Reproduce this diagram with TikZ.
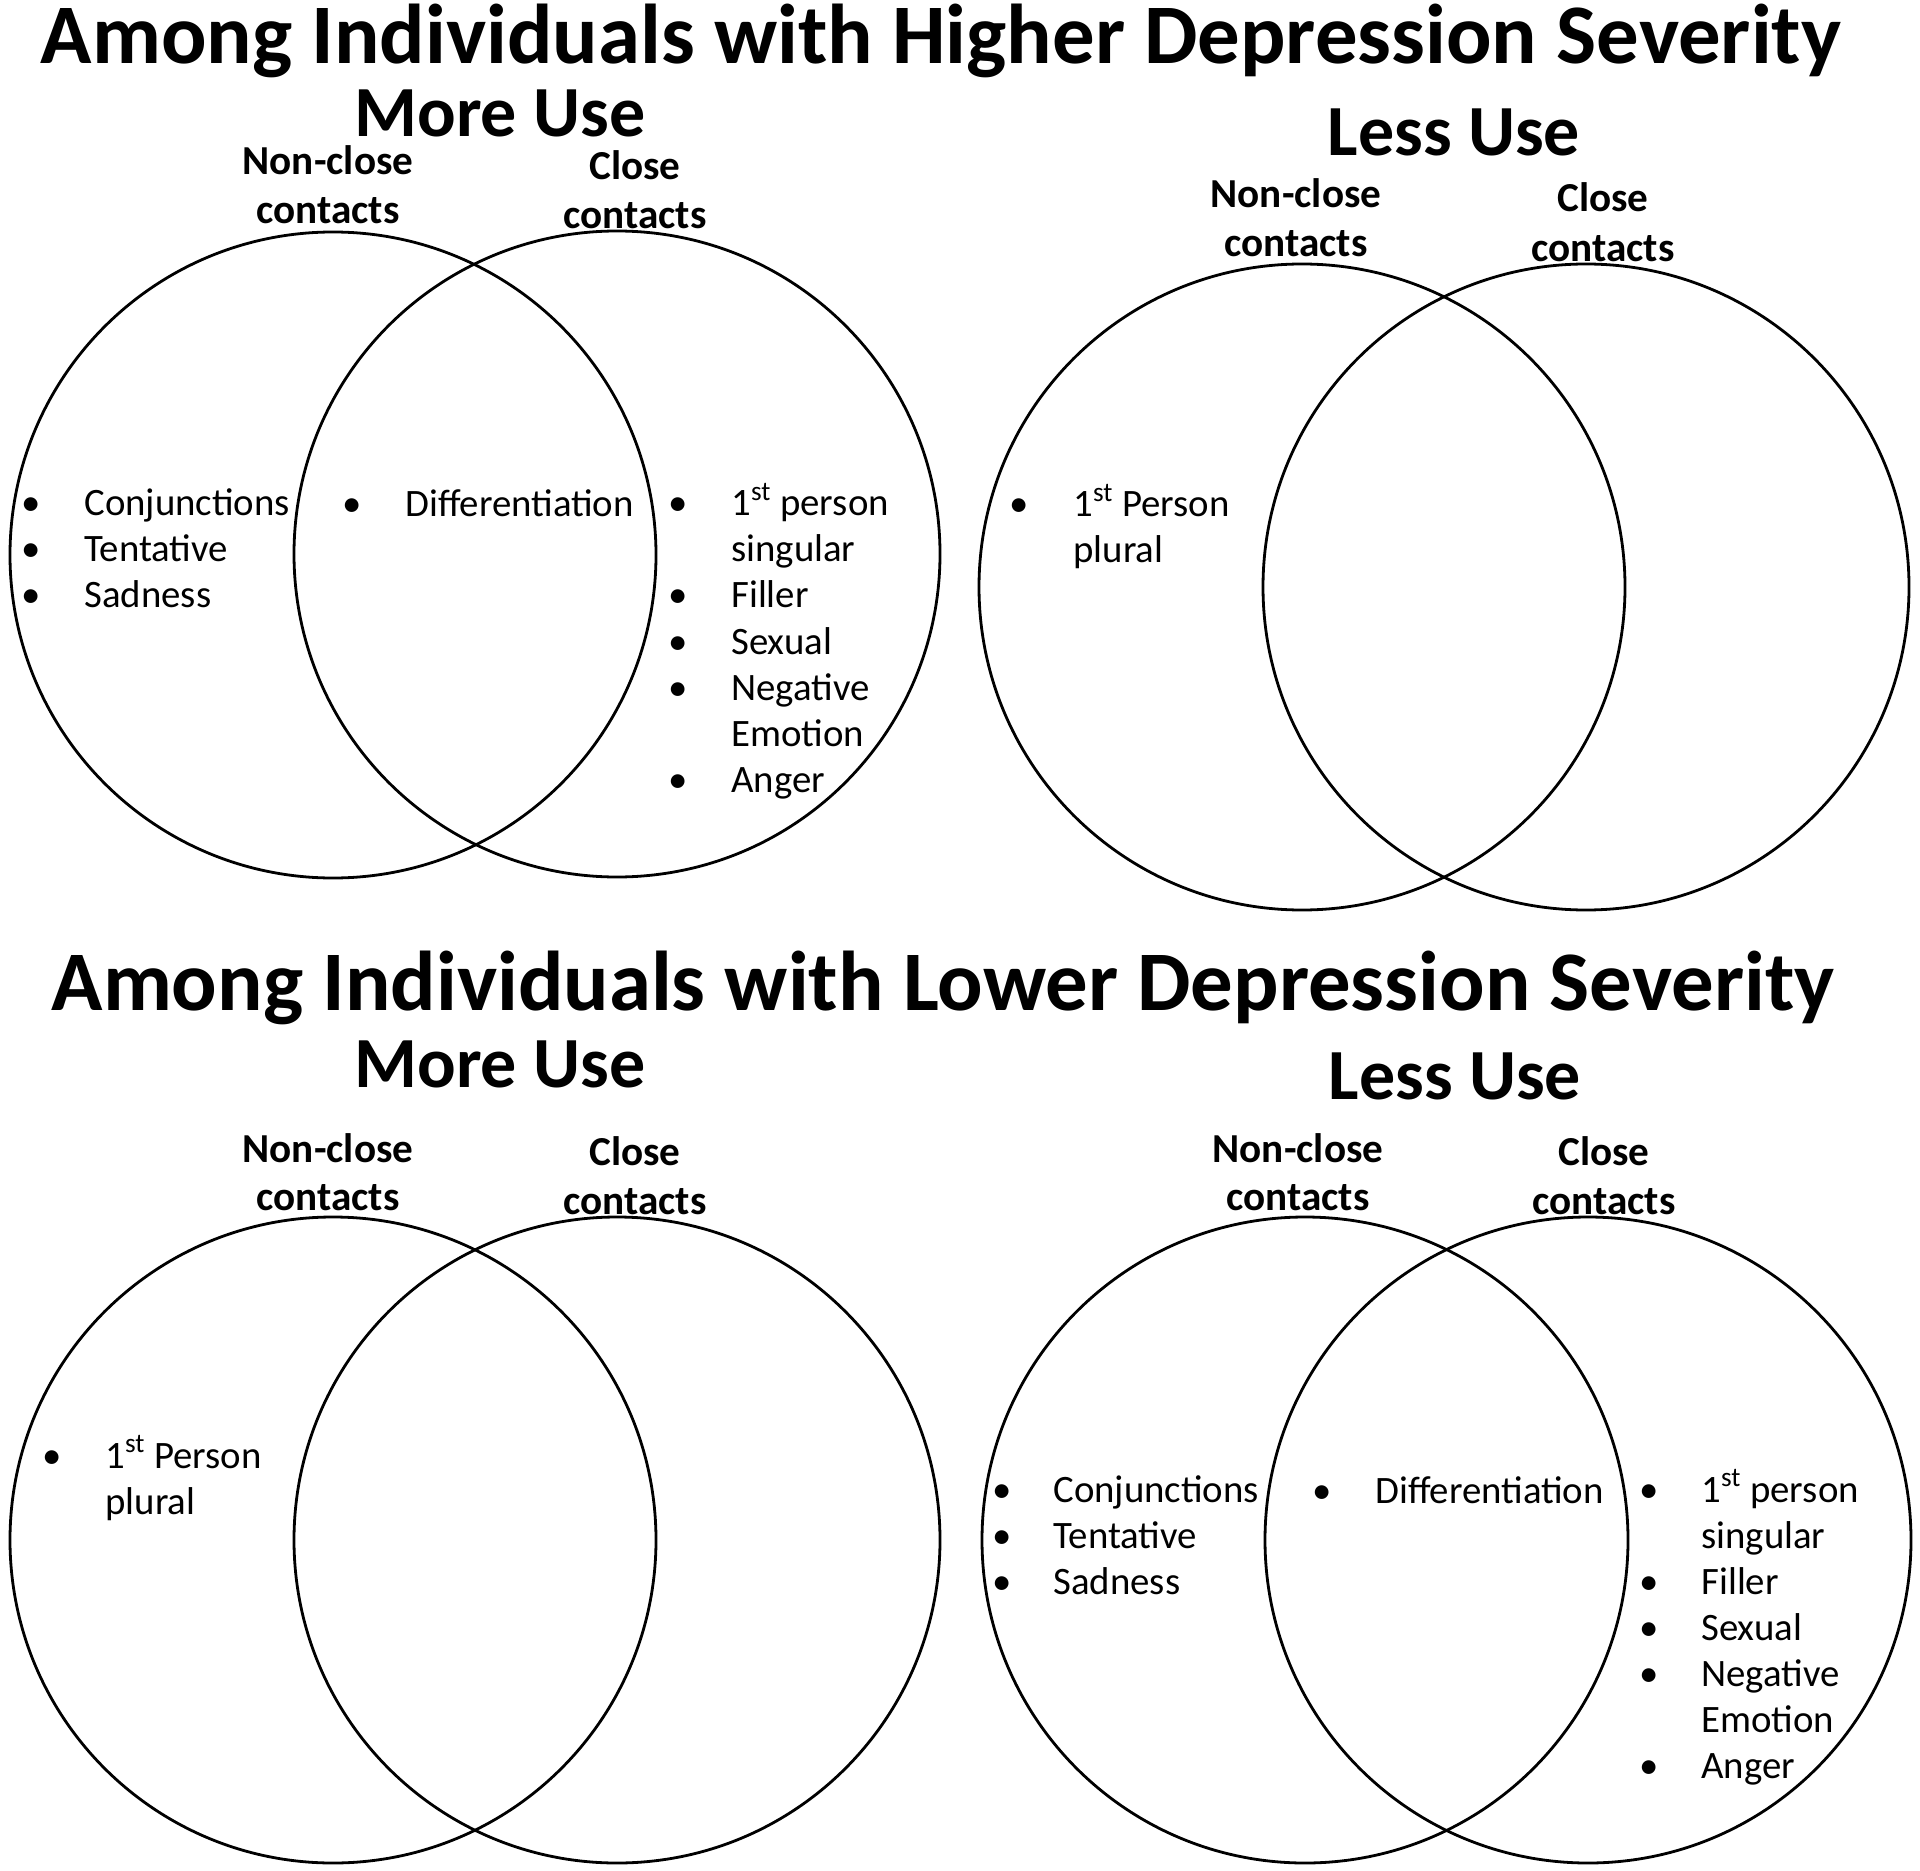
\documentclass[tikz,border=0pt]{standalone}
\usepackage{fontspec}
\setmainfont{Carlito}
\newcommand\bdot[3]{\node[dot] (#1) at (#2,#3) {•};}
\begin{document}
\begin{tikzpicture}[x=0.5pt,y=-0.5pt,
 venn/.style={draw, circle, line width=1.4pt, minimum size=323pt, inner sep=0pt},
 title/.style={font=\fontsize{42.4}{50}\selectfont\bfseries, inner sep=0pt, anchor=base},
 sub/.style={font=\fontsize{36}{43}\selectfont\bfseries, inner sep=0pt, anchor=base},
 lab/.style={font=\fontsize{20.6}{24.5}\selectfont\bfseries, inner sep=0pt, anchor=base},
 item/.style={font=\fontsize{19.4}{23}\selectfont, inner sep=0pt, anchor=base west},
 dot/.style={font=\fontsize{19.4}{23}\selectfont, inner sep=0pt, anchor=base},
]
\useasboundingbox (0,0) rectangle (1920,1871);
% ---------- top half ----------
\node[title] (t1) at (941,64) {Among Individuals with Higher Depression Severity};
\node[sub] (mu1) at (500,137) {More Use};
\node[sub] (lu1) at (1454,156) {Less Use};
\node[lab] (nc1a) at (328,175) {Non-close};
\node[lab] (nc1b) at (328,224) {contacts};
\node[lab] (c1a) at (635,180) {Close};
\node[lab] (c1b) at (635,229) {contacts};
\node[lab] (nc2a) at (1296,208) {Non-close};
\node[lab] (nc2b) at (1296,257) {contacts};
\node[lab] (c2a) at (1603,212) {Close};
\node[lab] (c2b) at (1603,262) {contacts};
\node[venn] (tlL) at (333,555) {};
\node[venn] (tlR) at (617,554) {};
\node[venn] (trL) at (1302,587) {};
\node[venn] (trR) at (1586,587) {};
% top-left items
\bdot{d1}{31}{516} \node[item] (i1) at (84,516) {Conjunctions};
\bdot{d2}{31}{562} \node[item] (i2) at (84,562) {Tentative};
\bdot{d3}{31}{608} \node[item] (i3) at (84,608) {Sadness};
\bdot{d4}{352}{517} \node[item] (i4) at (405,517) {Differentiation};
\bdot{d5}{678}{516} \node[item] (i5) at (731,516) {1\textsuperscript{st} person};
\node[item] (i5b) at (731,562) {singular};
\bdot{d6}{678}{608} \node[item] (i6) at (731,608) {Filler};
\bdot{d7}{678}{654} \node[item] (i7) at (731,654) {Sexual};
\bdot{d8}{678}{700} \node[item] (i8) at (731,700) {Negative};
\node[item] (i8b) at (731,746) {Emotion};
\bdot{d9}{678}{792} \node[item] (i9) at (731,792) {Anger};
% top-right items
\bdot{d10}{1019}{517} \node[item] (i10) at (1073,517) {1\textsuperscript{st} Person};
\node[item] (i10b) at (1073,563) {plural};
% ---------- bottom half ----------
\node[title] (t2) at (943,1010) {Among Individuals with Lower Depression Severity};
\node[sub] (mu2) at (500,1087) {More Use};
\node[sub] (lu2) at (1455,1099) {Less Use};
\node[lab] (nc3a) at (328,1162) {Non-close};
\node[lab] (nc3b) at (328,1210) {contacts};
\node[lab] (c3a) at (635,1165) {Close};
\node[lab] (c3b) at (635,1214) {contacts};
\node[lab] (nc4a) at (1298,1162) {Non-close};
\node[lab] (nc4b) at (1298,1210) {contacts};
\node[lab] (c4a) at (1604,1165) {Close};
\node[lab] (c4b) at (1604,1214) {contacts};
\node[venn] (blL) at (333,1540) {};
\node[venn] (blR) at (617,1540) {};
\node[venn] (brL) at (1305,1540) {};
\node[venn] (brR) at (1588,1540) {};
% bottom-left items
\bdot{d11}{52}{1468} \node[item] (i11) at (105,1468) {1\textsuperscript{st} Person};
\node[item] (i11b) at (105,1514) {plural};
% bottom-right items
\bdot{d12}{1002}{1502} \node[item] (i12) at (1053,1502) {Conjunctions};
\bdot{d13}{1002}{1548} \node[item] (i13) at (1053,1548) {Tentative};
\bdot{d14}{1002}{1594} \node[item] (i14) at (1053,1594) {Sadness};
\bdot{d15}{1322}{1503} \node[item] (i15) at (1375,1503) {Differentiation};
\bdot{d16}{1649}{1502} \node[item] (i16) at (1701,1502) {1\textsuperscript{st} person};
\node[item] (i16b) at (1701,1548) {singular};
\bdot{d17}{1649}{1594} \node[item] (i17) at (1701,1594) {Filler};
\bdot{d18}{1649}{1640} \node[item] (i18) at (1701,1640) {Sexual};
\bdot{d19}{1649}{1686} \node[item] (i19) at (1701,1686) {Negative};
\node[item] (i19b) at (1701,1732) {Emotion};
\bdot{d20}{1649}{1778} \node[item] (i20) at (1701,1778) {Anger};
\end{tikzpicture}
\end{document}
